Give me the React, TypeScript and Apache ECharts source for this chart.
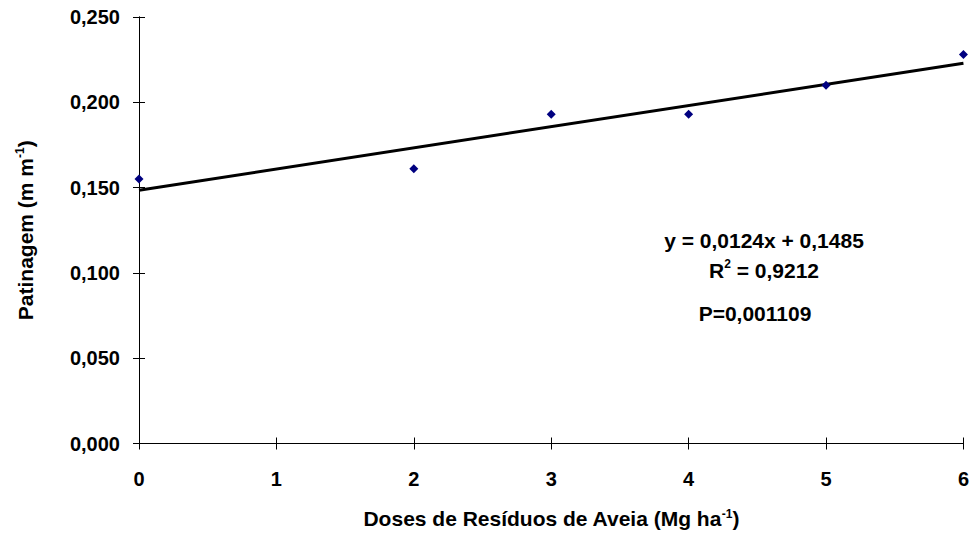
import React, { useEffect, useRef } from "react";
import * as echarts from "echarts";

// ---- data ----
const doses = [0, 2, 3, 4, 5, 6];
const patinagem = [0.155, 0.161, 0.193, 0.193, 0.21, 0.228];
const slope = 0.0124;
const intercept = 0.1485;
const trendRange = [0, 6];
const equationText = "y = 0,0124x + 0,1485";
const r2Text = "0,9212";
const pText = "P=0,001109";
const xTitle = "Doses de Resíduos de Aveia (Mg ha";
const yTitle = "Patinagem (m m";

const FONT = "'Liberation Sans', Arial, Helvetica, sans-serif";

export default function App() {
  const ref = useRef<HTMLDivElement>(null);

  useEffect(() => {
    if (!ref.current) return;
    const chart = echarts.init(ref.current, null, { renderer: "svg" });

    const labelStyle = {
      fontFamily: FONT,
      fontWeight: "bold" as const,
      fontSize: 20,
      color: "#000",
    };
    const richTitle = {
      n: { fontFamily: FONT, fontWeight: "bold", fontSize: 21, color: "#000" },
      s: {
        fontFamily: FONT,
        fontWeight: "bold",
        fontSize: 12,
        color: "#000",
        verticalAlign: "top",
        padding: [0, 0, 10, 0],
      },
    };
    const axisLine = { show: true, onZero: false, lineStyle: { color: "#000", width: 1 } };

    const xBase = {
      type: "value" as const,
      min: 0,
      max: 6,
      interval: 1,
      position: "bottom" as const,
      splitLine: { show: false },
      axisLine,
    };
    const yBase = {
      type: "value" as const,
      min: 0,
      max: 0.25,
      interval: 0.05,
      position: "left" as const,
      splitLine: { show: false },
      axisLine,
    };

    const trendData = trendRange.map((x) => [x, intercept + slope * x]);

    chart.setOption({
      animation: false,
      backgroundColor: "#fff",
      grid: { left: 139, right: 8, top: 17, bottom: 87, containLabel: false },
      xAxis: [
        {
          ...xBase,
          axisTick: { show: true, inside: false, length: 6, lineStyle: { color: "#000" } },
          axisLabel: { ...labelStyle, margin: 25, formatter: (v: number) => String(v) },
          name: `{n|${xTitle}}{s|-1}{n|)}`,
          nameLocation: "middle",
          nameGap: 64,
          nameTextStyle: { rich: richTitle },
        },
        {
          ...xBase,
          axisTick: { show: true, inside: true, length: 6, lineStyle: { color: "#000" } },
          axisLabel: { show: false },
        },
      ],
      yAxis: [
        {
          ...yBase,
          axisTick: { show: true, inside: false, length: 6, lineStyle: { color: "#000" } },
          axisLabel: {
            ...labelStyle,
            margin: 19,
            formatter: (v: number) => v.toFixed(3).replace(".", ","),
          },
          name: `{n|${yTitle}}{s|-1}{n|)}`,
          nameLocation: "middle",
          nameGap: 103,
          nameTextStyle: { rich: richTitle },
        },
        {
          ...yBase,
          axisTick: { show: true, inside: true, length: 6, lineStyle: { color: "#000" } },
          axisLabel: { show: false },
        },
      ],
      series: [
        {
          type: "line",
          xAxisIndex: 0,
          yAxisIndex: 0,
          data: trendData,
          showSymbol: false,
          symbol: "none",
          lineStyle: { color: "#000", width: 3 },
          z: 2,
        },
        {
          type: "scatter",
          xAxisIndex: 0,
          yAxisIndex: 0,
          data: doses.map((d, i) => [d, patinagem[i]]),
          symbol: "diamond",
          symbolSize: 9,
          itemStyle: { color: "#000080", opacity: 1 },
          z: 3,
        },
      ],
      graphic: [
        {
          type: "text",
          x: 764,
          y: 240,
          style: {
            text: equationText,
            align: "center",
            verticalAlign: "middle",
            fontFamily: FONT,
            fontWeight: "bold",
            fontSize: 21,
            fill: "#000",
          },
        },
        {
          type: "text",
          x: 764,
          y: 270,
          style: {
            text: `{n|R}{s|2}{n| = ${r2Text}}`,
            align: "center",
            verticalAlign: "middle",
            rich: {
              n: { fontFamily: FONT, fontWeight: "bold", fontSize: 21, fill: "#000" },
              s: {
                fontFamily: FONT,
                fontWeight: "bold",
                fontSize: 12,
                fill: "#000",
                verticalAlign: "top",
                padding: [0, 0, 12, 0],
              },
            },
          },
        },
        {
          type: "text",
          x: 755,
          y: 313,
          style: {
            text: pText,
            align: "center",
            verticalAlign: "middle",
            fontFamily: FONT,
            fontWeight: "bold",
            fontSize: 21,
            fill: "#000",
          },
        },
      ],
    });

    return () => chart.dispose();
  }, []);

  return (
    <div
      ref={ref}
      style={{ position: "fixed", left: 0, top: 0, width: 972, height: 534 }}
    />
  );
}
